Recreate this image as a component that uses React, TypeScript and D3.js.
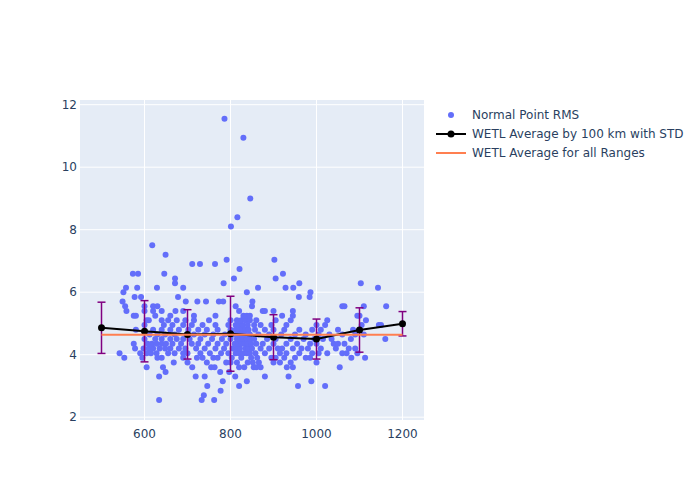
import * as d3 from "d3";

// normal point RMS, grouped by rms level (range values in km)
const rmsLevels = [
  2.55, 2.7, 2.85, 3.0, 3.15, 3.3, 3.45, 3.6, 3.75, 3.9, 4.05, 4.2, 4.35, 4.5, 4.65, 4.8, 4.95, 5.1,
  5.25, 5.4, 5.55, 5.7, 5.85, 6.0, 6.14, 6.29, 6.44, 6.59, 6.74, 6.9, 7.04, 7.2, 7.5, 8.1, 8.4, 9.0,
  10.94, 11.55,
];
const rangesAtLevel = [
  [634, 733, 762],
  [738],
  [777],
  [746, 820, 957, 1020],
  [782, 838, 988],
  [634, 719, 740, 811, 880, 935],
  [649, 776, 797],
  [605, 643, 711, 755, 763, 820, 832, 854, 860, 870, 931, 945, 1054],
  [668, 700, 745, 790, 800, 815, 840, 852, 866, 900, 915, 940, 1000],
  [553, 595, 630, 640, 690, 722, 735, 760, 770, 803, 825, 848, 862, 895, 905, 925, 950, 975, 985, 1081, 1113],
  [542, 590, 605, 615, 628, 655, 670, 690, 700, 730, 752, 778, 795, 812, 820, 830, 838, 845, 858, 880, 915, 930, 960, 990, 1005, 1025, 1060, 1070, 1095],
  [578, 598, 610, 620, 635, 648, 660, 680, 695, 720, 740, 765, 785, 805, 815, 822, 835, 842, 850, 870, 890, 910, 920, 945, 965, 980, 1010, 1045, 1075, 1090],
  [575, 607, 617, 628, 640, 650, 665, 685, 710, 725, 748, 770, 790, 810, 818, 825, 832, 840, 848, 860, 875, 900, 930, 955, 985, 1000, 1040, 1050, 1065],
  [600, 625, 640, 660, 675, 690, 705, 730, 757, 780, 800, 815, 822, 830, 838, 845, 855, 885, 905, 940, 970, 995, 1015, 1035, 1080, 1160],
  [612, 630, 648, 670, 698, 715, 740, 760, 787, 808, 818, 826, 835, 845, 865, 890, 918, 950, 975, 1005, 1030, 1060, 1090, 1110],
  [580, 620, 640, 660, 680, 702, 725, 745, 770, 800, 812, 820, 828, 835, 842, 857, 880, 900, 925, 960, 990, 1010, 1050, 1085, 1100],
  [600, 645, 665, 690, 710, 735, 765, 795, 812, 820, 828, 840, 855, 870, 895, 930, 1000, 1020, 1105, 1145, 1150],
  [605, 610, 640, 655, 675, 695, 715, 750, 800, 815, 825, 835, 845, 860, 905, 940, 1025, 1115],
  [575, 580, 625, 660, 715, 765, 830, 838, 845, 920, 945, 1095, 1100],
  [558, 600, 620, 640, 672, 690, 820, 875, 880, 900, 945],
  [555, 600, 620, 630, 812, 850, 1060, 1065, 1110, 1162],
  [549, 696, 723, 743, 773, 783, 851],
  [577, 592, 678, 959, 984],
  [551, 838, 986],
  [557, 583, 629, 690, 864, 928, 946, 1143],
  [671, 784, 960, 1103],
  [671, 808, 905],
  [573, 585, 646, 922],
  [821],
  [711, 729, 764],
  [791, 902],
  [649],
  [618],
  [801],
  [816],
  [846],
  [830],
  [786],
];

// WETL average by 100 km bins
const binRange = [500, 600, 700, 800, 900, 1000, 1100, 1200];
const binMean = [4.86, 4.75, 4.65, 4.67, 4.56, 4.5, 4.79, 4.99];
const binStd = [0.82, 0.98, 0.79, 1.2, 0.72, 0.64, 0.71, 0.39];
const overallMean = 4.64;

const xTicks = [600, 800, 1000, 1200];
const yTicks = [2, 4, 6, 8, 10, 12];

const font = '"DejaVu Sans", Verdana, sans-serif';
const textColor = "#2a3f5f";

export default function App() {
  const width = 700;
  const height = 500;
  const plot = { left: 80, right: 424, top: 100, bottom: 420 };

  const x = d3.scaleLinear().domain([450, 1250]).range([plot.left, plot.right]);
  const y = d3.scaleLinear().domain([1.91, 12.15]).range([plot.bottom, plot.top]);

  const points = rmsLevels.flatMap((r, i) => rangesAtLevel[i].map((km) => ({ km, r })));
  const bins = binRange.map((km, i) => ({ km, mean: binMean[i], std: binStd[i] }));

  const avgLine = d3
    .line<{ km: number; mean: number }>()
    .x((d) => x(d.km))
    .y((d) => y(d.mean));

  return (
    <svg
      width={width}
      height={height}
      style={{ position: "absolute", left: 0, top: 0, background: "#fff" }}
      fontFamily={font}
    >
      <rect
        x={plot.left}
        y={plot.top}
        width={plot.right - plot.left}
        height={plot.bottom - plot.top}
        fill="#E5ECF6"
      />
      {/* grid */}
      {xTicks.map((t) => (
        <line key={"gx" + t} x1={x(t)} x2={x(t)} y1={plot.top} y2={plot.bottom} stroke="#fff" strokeWidth={1} />
      ))}
      {yTicks.map((t) => (
        <line key={"gy" + t} x1={plot.left} x2={plot.right} y1={y(t)} y2={y(t)} stroke="#fff" strokeWidth={1} />
      ))}

      {/* tick labels */}
      {xTicks.map((t) => (
        <text key={"tx" + t} x={x(t)} y={plot.bottom + 18} textAnchor="middle" fontSize={12} fill={textColor}>
          {t}
        </text>
      ))}
      {yTicks.map((t) => (
        <text key={"ty" + t} x={plot.left - 3} y={y(t)} dy="0.35em" textAnchor="end" fontSize={12} fill={textColor}>
          {t}
        </text>
      ))}

      {/* scatter */}
      <g>
        {points.map((p, i) => (
          <circle key={i} cx={x(p.km)} cy={y(p.r)} r={3} fill="#636efa" />
        ))}
      </g>

      {/* error bars */}
      <g stroke="#800080" strokeWidth={1.5}>
        {bins.map((b) => (
          <g key={"e" + b.km}>
            <line x1={x(b.km)} x2={x(b.km)} y1={y(b.mean - b.std)} y2={y(b.mean + b.std)} />
            <line x1={x(b.km) - 4} x2={x(b.km) + 4} y1={y(b.mean - b.std)} y2={y(b.mean - b.std)} />
            <line x1={x(b.km) - 4} x2={x(b.km) + 4} y1={y(b.mean + b.std)} y2={y(b.mean + b.std)} />
          </g>
        ))}
      </g>

      {/* average line */}
      <path d={avgLine(bins) ?? ""} fill="none" stroke="#000" strokeWidth={2} />
      {bins.map((b) => (
        <circle key={"m" + b.km} cx={x(b.km)} cy={y(b.mean)} r={3.5} fill="#000" />
      ))}

      {/* overall average */}
      <line
        x1={x(binRange[0])}
        x2={x(binRange[binRange.length - 1])}
        y1={y(overallMean)}
        y2={y(overallMean)}
        stroke="#FF7F50"
        strokeWidth={2}
      />

      {/* legend */}
      <g fontSize={12} fill={textColor}>
        <circle cx={451} cy={115} r={3} fill="#636efa" />
        <text x={472} y={115} dy="0.35em">Normal Point RMS</text>
        <line x1={436} x2={466} y1={134} y2={134} stroke="#000" strokeWidth={2} />
        <circle cx={451} cy={134} r={3.5} fill="#000" />
        <text x={472} y={134} dy="0.35em">WETL Average by 100 km with STD</text>
        <line x1={436} x2={466} y1={153} y2={153} stroke="#FF7F50" strokeWidth={2} />
        <text x={472} y={153} dy="0.35em">WETL Average for all Ranges</text>
      </g>
    </svg>
  );
}
